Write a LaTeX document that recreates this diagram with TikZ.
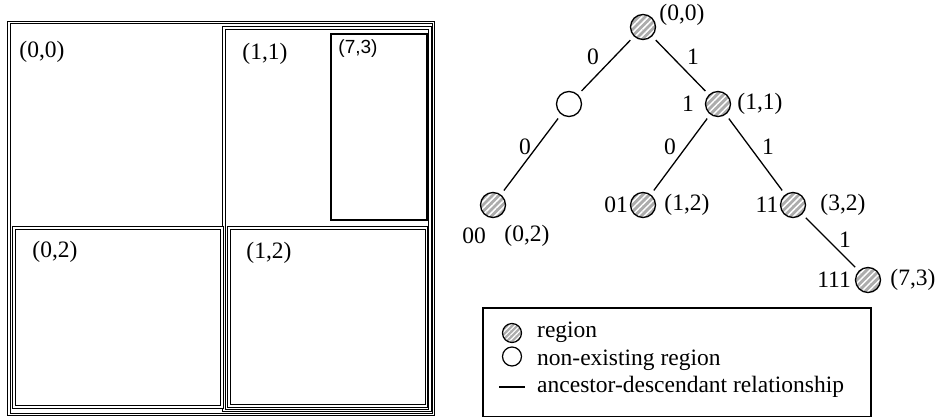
\documentclass[tikz,border=0pt]{standalone}
\usepackage{fontspec}
\setmainfont{Liberation Serif}
\newfontfamily\lsans{Liberation Sans}
\usetikzlibrary{patterns.meta}
\begin{document}
\begin{tikzpicture}[x=1pt,y=-1pt,
  txt/.style={font=\fontsize{23.5}{27}\selectfont, inner sep=0pt},
  dbox/.style={draw, double, double distance=1.1pt, line width=1pt},
  sbox/.style={draw, line width=1.6pt},
  regionnode/.style={circle, draw, line width=1.3pt, minimum size=25pt, inner sep=0pt,
     preaction={fill=gray!65},
     pattern={Lines[angle=45,distance=4.6pt,line width=1.5pt]}, pattern color=white},
  emptynode/.style={circle, draw, line width=1.3pt, minimum size=25pt, inner sep=0pt, fill=white},
  edge/.style={line width=1.3pt, shorten <=5pt, shorten >=5pt},
  lgregion/.style={circle, draw, line width=1.2pt, minimum size=19pt, inner sep=0pt,
     preaction={fill=gray!65},
     pattern={Lines[angle=45,distance=3.6pt,line width=1.1pt]}, pattern color=white},
  lgempty/.style={circle, draw, line width=1.2pt, minimum size=19pt, inner sep=0pt, fill=white}
]
\useasboundingbox (0,0) rectangle (940,418);

% ---- left: regions ----
\draw[dbox] (9,22.5) rectangle (433.5,414.5);
\draw[dbox] (224,28) rectangle (430,410.5);
\draw[sbox] (331,34) rectangle (427,220);
\draw[dbox] (14,228) rectangle (222,407);
\draw[dbox] (229,228) rectangle (426.5,406);

\node[txt] (l00) at (42,52) {(0,0)};
\node[txt] (l11) at (265,54) {(1,1)};
\node[inner sep=0pt, font=\lsans\fontsize{19}{22}\selectfont] (l73) at (358,49) {(7,3)};
\node[txt] (l02) at (55,252) {(0,2)};
\node[txt] (l12) at (269,253) {(1,2)};

% ---- right: tree ----
\node[regionnode] (r) at (643,27) {};
\node[emptynode] (e) at (569,104) {};
\node[regionnode] (n1) at (718,104) {};
\node[regionnode] (n00) at (493,205) {};
\node[regionnode] (n01) at (643,205) {};
\node[regionnode] (n11) at (793,205) {};
\node[regionnode] (n111) at (868,280) {};

\draw[edge] (r) -- (e);
\draw[edge] (r) -- (n1);
\draw[edge] (e) -- (n00);
\draw[edge] (n1) -- (n01);
\draw[edge] (n1) -- (n11);
\draw[edge] (n11) -- (n111);

\node[txt] (e1) at (593,57) {0};
\node[txt] (e2) at (693,57) {1};
\node[txt] (e3) at (525,147) {0};
\node[txt] (e4) at (670,147) {0};
\node[txt] (e5) at (768,147) {1};
\node[txt] (e6) at (845,240) {1};

\node[txt] (tr) at (682,15) {(0,0)};
\node[txt] (t1a) at (688,104) {1};
\node[txt] (t1b) at (760,104) {(1,1)};
\node[txt] (t00a) at (474,236) {00};
\node[txt] (t00b) at (527,236) {(0,2)};
\node[txt] (t01a) at (616,205) {01};
\node[txt] (t01b) at (687,205) {(1,2)};
\node[txt] (t11a) at (767,205) {11};
\node[txt] (t11b) at (843,205) {(3,2)};
\node[txt] (t111a) at (834,280) {111};
\node[txt] (t111b) at (913,280) {(7,3)};

% ---- legend ----
\draw[line width=1.3pt] (483,308) rectangle (871,416.5);
\node[lgregion] (lg1) at (512,333) {};
\node[lgempty] (lg2) at (512,356.5) {};
\coordinate (lga) at (499,387);
\coordinate (lgb) at (525,387);
\draw[line width=1.2pt] (lga) -- (lgb);
\node[txt, anchor=base west] (lt1) at (537,337) {region};
\node[txt, anchor=base west] (lt2) at (537,365) {non-existing region};
\node[txt, anchor=base west] (lt3) at (537,392) {ancestor-descendant relationship};
\end{tikzpicture}
\end{document}
